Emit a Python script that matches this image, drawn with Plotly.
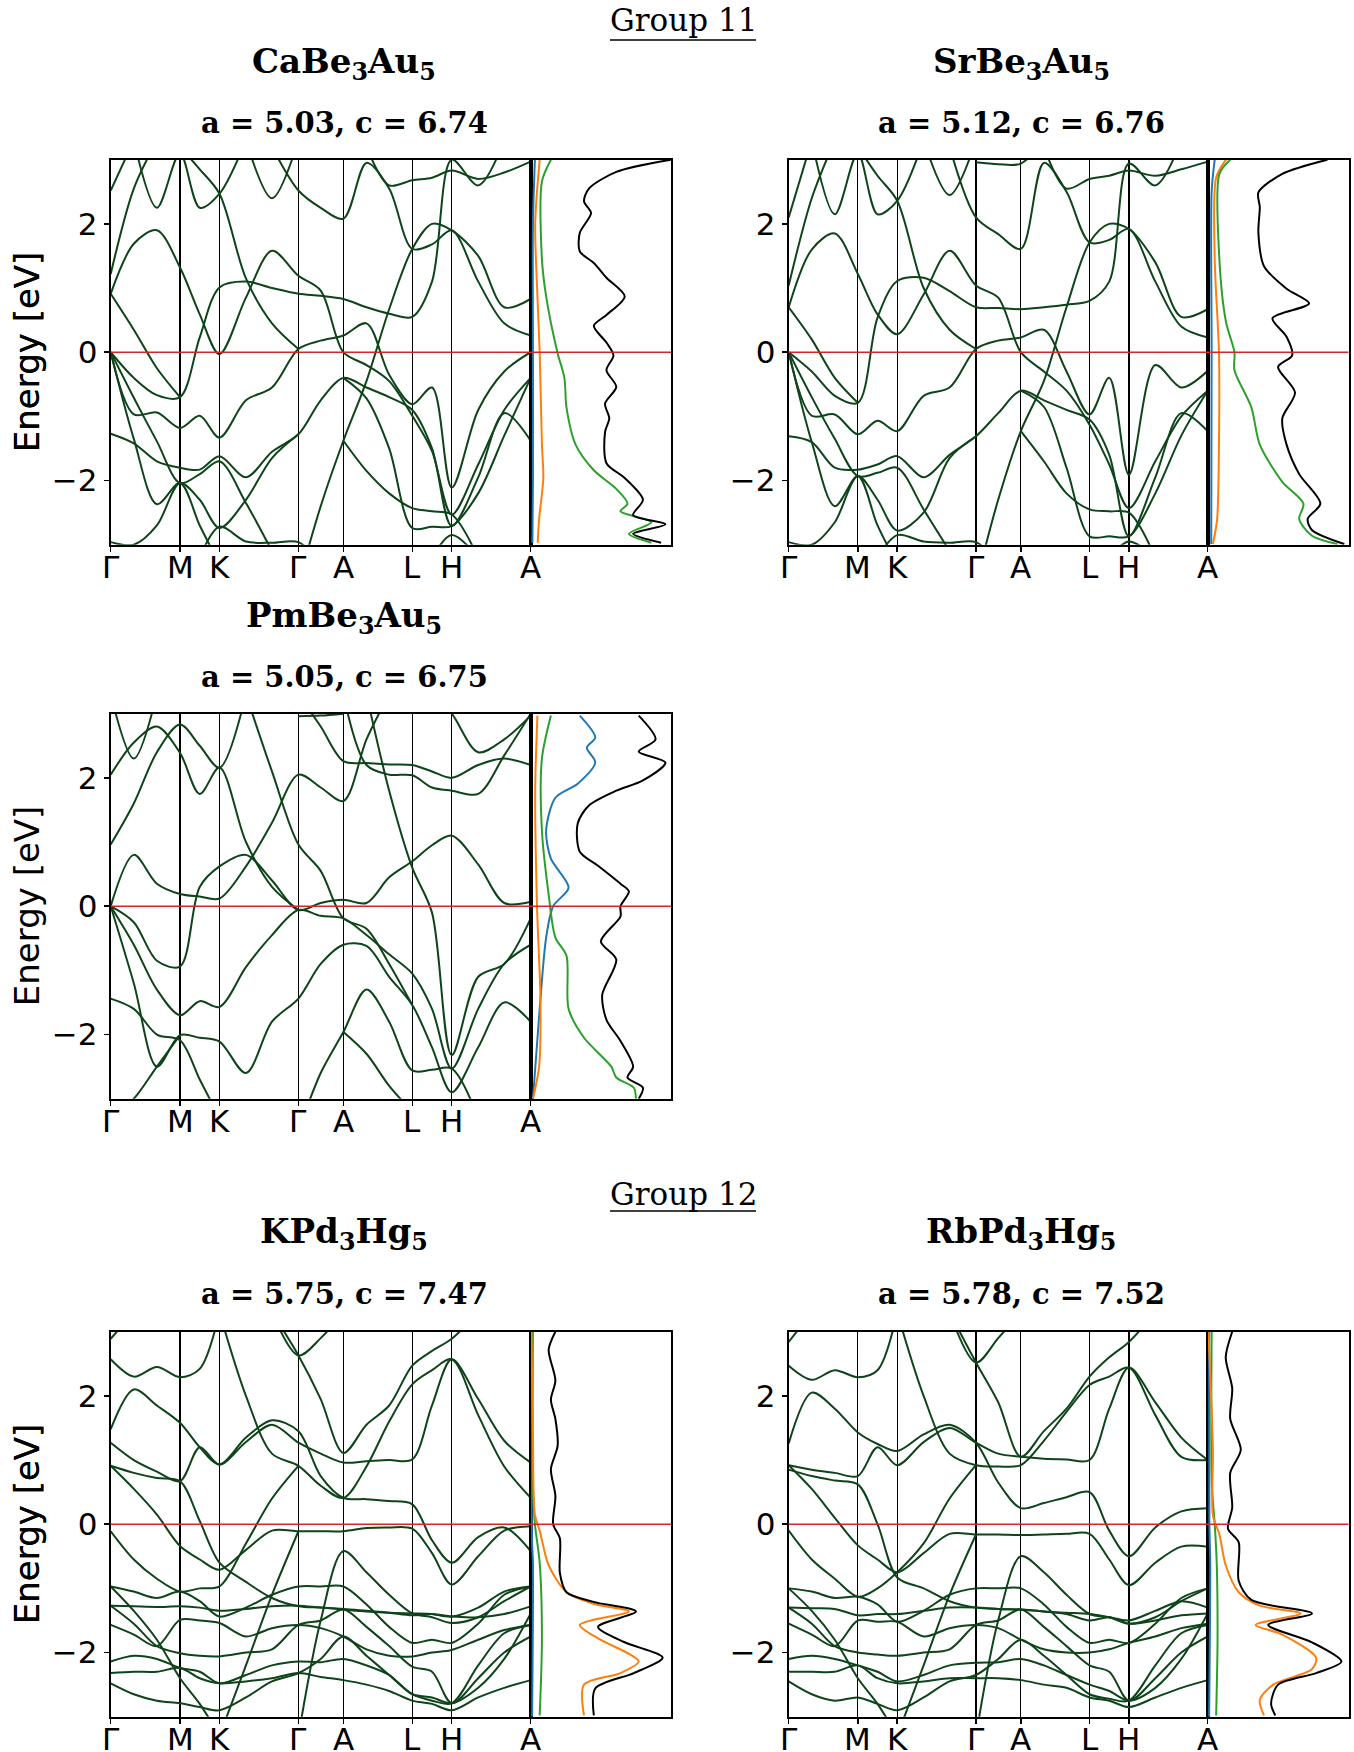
import plotly.graph_objects as go

# ------------------------------------------------------------------ data
KPATH = [0.0, 0.165, 0.259, 0.447, 0.554, 0.718, 0.812, 1.0]
KLABELS = ["Γ", "M", "K", "Γ", "A", "L", "H", "A"]
KGRID = [0.0, 0.055, 0.110, 0.165, 0.212, 0.259, 0.322, 0.384, 0.447, 0.500,
         0.554, 0.609, 0.663, 0.718, 0.765, 0.812, 0.875, 0.937, 1.0]
ETICKS = [-2, 0, 2]

COMPOUNDS = ["CaBe<sub>3</sub>Au<sub>5</sub>", "SrBe<sub>3</sub>Au<sub>5</sub>",
             "PmBe<sub>3</sub>Au<sub>5</sub>", "KPd<sub>3</sub>Hg<sub>5</sub>",
             "RbPd<sub>3</sub>Hg<sub>5</sub>"]
LATTICE = ["a = 5.03, c = 6.74", "a = 5.12, c = 6.76", "a = 5.05, c = 6.75",
           "a = 5.75, c = 7.47", "a = 5.78, c = 7.52"]
GROUPS = ["Group 11", "Group 12"]

N = None
CABE_BANDS = [
    [0, -0.40, -0.67, -0.70, 0.23, 1.01, 1.10, 1.00, 0.91, 0.88, 0.83, 0.70, 0.60, 0.55, 1.10, 3.00, 2.60, 3.30],
    [0.91, 1.69, 1.90, 1.32, 0.59, -0.03, 0.85, 1.58, 1.19, 0.96, 0.00, -0.20, -0.45, -0.99, -1.54, -2.53, -1.75, -0.90, -0.40],
    [0, -0.71, -1.39, -2.04, -1.90, -1.70, -2.35, -3.10],
    [0, -1.35, -2.37, -2.04, -2.70, -3.30],
    [0, -0.97, -0.94, -1.18, -0.99, -1.33, -0.75, -0.55, 0.05, 0.18, 0.26, 0.45, -0.35, -0.81, -0.55, -2.11, -0.90, -0.30, 0.00],
    [-1.27, -1.42, -1.70, -1.80, -1.83, -1.62, -1.95, -1.55, -1.28, -0.75, -0.40, -0.55, -0.70, -0.90, -1.50, -2.71, -1.95, -0.95, -1.38],
    [-2.96, -3.00, -2.70, -2.04, -2.30, -2.74, -2.30, -1.65, -1.28],
    [N, N, N, N, -3.20, -2.72, -2.95, -2.97, -2.96, -3.30],
    [N, N, N, N, N, N, N, N, -3.60, -2.40, -1.38, -0.45, 0.67, 1.61, 2.00, 1.90, 1.50, 0.70, 0.83],
    [N, N, N, N, N, N, N, N, N, N, -1.38, -1.85, -2.20, -2.43, -2.48, -2.53, -3.20],
    [N, N, N, N, N, N, N, N, N, N, -0.40, -0.72, -1.50, -2.74, -2.72, -2.71, -2.20, -1.30, -0.40],
    [N, N, N, N, N, N, N, 3.20, 2.52, 2.25, 2.08, 2.95, 2.55, 1.61, 1.68, 1.90, 1.10, 0.45, 0.26],
    [N, N, N, N, N, N, N, N, N, N, N, 3.20, 2.60, 2.68, 2.72, 2.83, 2.70, 2.80, 2.97],
    [1.22, 2.55, 3.30],
    [2.52, 3.30],
    [N, 3.30, 2.25, 3.10, 2.25, 2.47, 3.30],
    [0.91, 0.35, -0.25, -0.70],
    [N, N, N, 3.20, 2.85, 2.47, 1.15, 0.45, 0.05],
    [N, N, N, N, N, N, 3.30, 2.40, 3.30],
    [N, N, N, N, N, N, N, N, N, N, N, N, N, N, -3.20, -2.85, -3.20],
]
SRBE_BANDS = [
    [0, -0.30, -0.68, -0.79, 0.54, 1.11, 1.16, 0.95, 0.70, 0.69, 0.67, 0.70, 0.74, 0.80, 1.10, 2.94, 2.60, 3.30],
    [0.70, 1.60, 1.85, 1.22, 0.59, 0.28, 0.90, 1.58, 1.04, 0.85, 0.00, -0.30, -0.60, -1.13, -1.75, -2.43, -1.70, -1.00, -0.60],
    [0, -0.70, -1.35, -1.93, -1.88, -1.80, -2.45, -3.10],
    [0, -1.40, -2.40, -1.93, -2.70, -3.30],
    [0, -0.99, -0.97, -1.28, -1.07, -1.23, -0.68, -0.55, 0.05, 0.18, 0.23, 0.35, -0.30, -0.97, -0.40, -1.91, -0.20, -0.55, -0.29],
    [-1.31, -1.40, -1.80, -1.83, -1.75, -1.62, -1.95, -1.60, -1.31, -0.95, -0.60, -0.75, -0.90, -1.05, -1.60, -2.87, -1.95, -0.95, -1.23],
    [-2.96, -3.00, -2.65, -1.93, -2.30, -2.78, -2.50, -1.65, -1.31],
    [N, N, N, N, -3.20, -2.85, -2.95, -2.97, -2.96, -3.30],
    [N, N, N, N, N, N, N, N, -3.60, -2.30, -1.23, -0.45, 0.70, 1.71, 2.00, 1.92, 1.40, 0.55, 0.67],
    [N, N, N, N, N, N, N, N, N, N, -1.23, -1.70, -2.20, -2.45, -2.48, -2.50, -3.20],
    [N, N, N, N, N, N, N, N, N, N, -0.60, -0.85, -1.80, -2.87, -2.87, -2.87, -2.20, -1.30, -0.60],
    [N, N, N, N, N, N, N, 3.20, 2.10, 1.84, 1.61, 2.95, 2.50, 1.71, 1.75, 1.92, 1.10, 0.40, 0.23],
    [N, N, N, N, N, N, N, N, N, N, N, 3.20, 2.55, 2.70, 2.75, 2.83, 2.75, 2.85, 2.97],
    [1.04, 2.40, 3.30],
    [2.10, 3.30],
    [N, 3.30, 2.15, 3.10, 2.15, 2.36, 3.30],
    [0.70, 0.20, -0.40, -0.79],
    [N, N, N, 3.20, 2.75, 2.36, 1.00, 0.35, 0.05],
    [N, N, N, N, N, N, 3.30, 2.45, 3.30],
    [N, N, N, N, N, N, N, N, N, N, N, N, N, N, -3.20, -2.95, -3.20],
    [N, N, N, N, N, N, N, N, 2.96, 2.93, 2.94, 3.30],
]
PMBE_BANDS = [
    [0, 0.80, 0.35, 0.19, 0.15, 0.12, 0.62, 1.30, 2.05, 1.85, 1.64, 2.60, 3.30],
    [0, -0.25, -0.85, -0.94, 0.30, 0.62, 0.80, 0.40, -0.06, 0.05, 0.10, 0.05, 0.45, 0.70, 0.95, 1.10, 0.65, 0.05, 0.07],
    [0, -0.60, -1.30, -1.70, -1.48, -1.57, -0.95, -0.45, -0.06, -0.15, -0.19, -0.45, -0.75, -1.05, -1.60, -2.53, -1.60, -0.90, -0.60],
    [0, -1.20, -2.50, -2.01, -2.05, -2.11, -2.60, -1.80, -1.44, -0.90, -0.60, -0.62, -1.10, -1.54, -2.20, -2.90, -2.20, -1.50, -1.80],
    [-1.44, -1.60, -2.00, -2.09, -2.70, -3.30],
    [-3.30, -3.00, -2.50, -2.01],
    [0.96, 1.60, 2.40, 2.83, 2.50, 2.16, 3.30],
    [2.05, 2.55, 2.80, 2.39, 1.75, 2.16, 1.00, 0.30, -0.06],
    [3.30, 2.30, 3.30],
    [N, N, N, N, N, N, 3.30, 2.10, 0.96, 0.55, -0.19, -0.35, -0.90, -1.54],
    [N, N, N, N, N, N, N, N, N, N, N, 3.30, 1.80, 0.60, -0.10, -2.32, -1.10, -0.90, -0.19],
    [N, N, N, N, N, N, N, N, 2.96, 2.97, 3.00],
    [N, N, N, N, N, N, N, N, 3.30, 2.80, 2.26, 2.23, 2.21, 2.20, 2.10, 2.00, 2.20, 2.30, 2.20],
    [N, N, N, N, N, N, N, N, N, N, 3.30, 2.20, 2.05, 2.04, 1.85, 1.80, 1.75, 2.35, 3.00],
    [N, N, N, N, N, N, N, N, -3.50, -2.60, -1.96, -1.30, -1.80, -2.56, -2.55, -2.53, -3.30],
    [N, N, N, N, N, N, N, N, N, N, -1.96, -2.30, -2.80, -3.20],
    [N, N, N, N, N, N, N, N, N, N, N, N, N, N, 3.30, 3.00, 2.40, 2.60, 2.97],
]
KPDHG_BANDS = [
    [2.57, 2.30, 2.45, 2.29, 2.42, 3.30],
    [1.48, 2.10, 1.85, 1.58, 1.20, 0.93, 1.35, 1.62, 1.45, 0.75, 0.41, 0.39, 0.36, 0.31, -0.25, -0.60, -0.20, -0.05, -0.42],
    [1.27, 1.00, 0.82, 0.67, 1.20, 0.93, 1.28, 1.55, 1.27, 1.10, 0.96, 0.98, 1.00, 1.01, 1.85, 2.57, 1.95, 1.30, 0.96],
    [0.91, 0.55, 0.15, -0.34, -0.55, -0.71, -0.40, -0.10, -0.11, -0.11, -0.11, -0.06, -0.05, -0.07, -0.45, -0.94, -0.50, -0.10, -0.03],
    [0.91, 0.80, 0.72, 0.67, 0.05, -0.60, -0.90, -1.15, -1.28, -1.30, -1.33, -1.36, -1.38, -1.39, -1.40, -1.44, -1.30, -1.05, -0.97],
    [N, N, N, N, N, N, N, 3.30, 2.63, 1.95, 1.11, 1.55, 1.85, 2.47, 2.70, 2.89, 3.30],
    [N, N, N, N, N, N, N, 3.30, 2.63, 2.90, 3.30],
    [N, N, N, N, N, 3.30, 2.00, 1.10, 0.91, 0.60, 0.41, 0.90, 1.60, 2.18, 2.40, 2.57, 1.70, 0.90, 0.41],
    [-0.11, -0.55, -0.85, -1.05, -1.00, -0.97, -0.30, 0.40, 0.91],
    [2.89, 3.30],
    [-0.97, -1.05, -1.15, -1.05, -1.20, -1.44, -1.30, -1.10, -0.97, -0.97, -0.97, -1.25, -1.60, -1.85, -1.80, -1.85, -1.55, -1.10, -0.97],
    [-1.27, -1.28, -1.29, -1.28, -1.30, -1.35, -1.32, -1.28, -1.27, -1.30, -1.32, -1.35, -1.38, -1.42, -1.40, -1.44, -1.45, -1.40, -1.28],
    [-1.57, -1.72, -1.90, -1.49, -1.50, -1.54, -1.75, -1.62, -1.57, -1.62, -1.75, -1.95, -2.05, -2.06, -2.00, -1.96, -1.80, -1.65, -1.57],
    [-1.27, -1.55, -1.90, -2.01, -2.05, -2.06, -2.00, -1.95, -1.57, -1.50, -1.33, -1.60, -1.90, -2.22, -2.30, -2.79, -2.40, -2.00, -1.75],
    [-2.14, -2.05, -2.10, -2.24, -2.30, -2.48, -2.35, -2.20, -2.14, -2.15, -2.10, -2.20, -2.35, -2.65, -2.70, -2.79, -2.55, -2.10, -1.39],
    [-2.32, -2.30, -2.30, -2.24, -2.40, -2.48, -2.45, -2.40, -2.32, -2.38, -2.43, -2.50, -2.60, -2.75, -2.80, -2.90, -2.70, -2.55, -2.43],
    [-2.48, -2.65, -2.75, -2.79, -2.85, -2.90, -2.70, -2.45, -2.32, -2.10, -1.75, -2.05, -2.35, -2.65, -2.75, -2.79, -2.20, -1.70, -1.57],
    [-0.97, -1.35, -1.80, -2.40, -2.80, -3.30],
    [N, N, N, N, N, -3.30, -2.20, -1.10, -0.11],
    [N, N, N, N, N, N, N, N, -3.30, -1.50, -0.42, -0.75, -1.10, -1.39, -1.45, -1.54, -1.45, -1.20, -0.97],
]
RBPDHG_BANDS = [
    [2.47, 2.25, 2.40, 2.29, 2.40, 3.30],
    [1.26, 2.05, 1.80, 1.43, 1.25, 1.14, 1.40, 1.55, 1.27, 0.65, 0.25, 0.33, 0.42, 0.50, -0.10, -0.50, -0.05, 0.20, 0.25],
    [0.92, 0.85, 0.80, 0.75, 1.20, 0.92, 1.28, 1.50, 1.27, 1.10, 1.05, 1.02, 1.01, 1.00, 1.80, 2.44, 1.90, 1.35, 1.00],
    [0.92, 0.55, 0.10, -0.33, -0.55, -0.75, -0.45, -0.15, -0.16, -0.16, -0.17, -0.16, -0.15, -0.15, -0.55, -0.95, -0.60, -0.35, -0.35],
    [0.85, 0.75, 0.68, 0.62, 0.00, -0.83, -1.00, -1.20, -1.30, -1.32, -1.33, -1.36, -1.38, -1.40, -1.45, -1.50, -1.35, -1.20, -1.30],
    [N, N, N, N, N, N, N, 3.30, 2.52, 1.90, 1.05, 1.45, 1.80, 2.30, 2.60, 2.84, 3.30],
    [N, N, N, N, N, N, N, 3.30, 2.52, 2.90, 3.30],
    [N, N, N, N, N, 3.30, 2.00, 1.10, 0.92, 0.90, 0.92, 1.30, 1.75, 2.17, 2.30, 2.44, 1.70, 1.05, 1.00],
    [-0.10, -0.55, -0.85, -1.13, -1.00, -0.75, -0.30, 0.40, 0.92],
    [2.84, 3.30],
    [-1.00, -1.05, -1.15, -1.13, -1.25, -1.52, -1.35, -1.10, -1.00, -1.00, -1.00, -1.25, -1.60, -1.85, -1.80, -1.85, -1.55, -1.15, -1.00],
    [-1.30, -1.31, -1.32, -1.42, -1.40, -1.40, -1.35, -1.30, -1.30, -1.32, -1.33, -1.36, -1.40, -1.50, -1.45, -1.55, -1.50, -1.42, -1.39],
    [-1.55, -1.72, -1.90, -1.50, -1.52, -1.52, -1.75, -1.62, -1.57, -1.62, -1.80, -1.95, -2.00, -2.00, -1.95, -1.85, -1.75, -1.62, -1.55],
    [-1.30, -1.55, -1.90, -2.00, -2.03, -2.05, -2.00, -1.95, -1.57, -1.50, -1.33, -1.60, -1.90, -2.20, -2.30, -2.75, -2.40, -2.00, -1.75],
    [-2.10, -2.05, -2.10, -2.20, -2.30, -2.45, -2.35, -2.20, -2.16, -2.15, -2.10, -2.20, -2.35, -2.50, -2.60, -2.75, -2.55, -2.10, -1.39],
    [-2.30, -2.30, -2.30, -2.20, -2.40, -2.48, -2.45, -2.40, -2.40, -2.40, -2.43, -2.50, -2.55, -2.70, -2.75, -2.85, -2.70, -2.55, -2.43],
    [-2.45, -2.65, -2.75, -2.70, -2.80, -2.90, -2.70, -2.45, -2.35, -2.10, -1.80, -2.05, -2.35, -2.65, -2.72, -2.75, -2.20, -1.70, -1.57],
    [-1.00, -1.35, -1.80, -2.40, -2.80, -3.30],
    [N, N, N, N, N, -3.30, -2.20, -1.10, -0.16],
    [N, N, N, N, N, N, N, N, -3.30, -1.50, -0.50, -0.75, -1.10, -1.40, -1.45, -1.55, -1.45, -1.20, -1.00],
]

# DOS curves (energy in eV, DOS in arbitrary units 0-10 across the side panel)
CABE_DOS_E_TOT = [3.0, 2.81, 2.55, 2.35, 2.17, 1.86, 1.57, 1.39, 1.16, 0.87, 0.58, 0.41, 0.15, -0.05, -0.28, -0.54, -0.80, -1.03, -1.24, -1.73, -1.96, -2.30, -2.54, -2.68, -2.83, -2.97]
CABE_DOS_TOT = [10.0, 6.1, 4.15, 3.8, 4.3, 3.5, 3.5, 4.5, 5.4, 6.7, 5.4, 4.5, 5.4, 5.9, 5.4, 6.1, 5.3, 5.6, 5.3, 5.4, 6.7, 8.0, 7.3, 9.6, 7.3, 9.3]
CABE_DOS_E_GRN = [3.0, 2.66, 1.45, 0.87, 0.0, -0.4, -0.86, -1.44, -1.84, -2.13, -2.36, -2.48, -2.65, -2.83, -2.97]
CABE_DOS_GRN = [1.44, 0.8, 0.8, 1.1, 1.9, 2.4, 2.55, 3.2, 4.5, 6.1, 6.9, 6.4, 8.6, 7.0, 8.6]
CABE_DOS_E_ORG = [3.0, 2.0, 0.87, 0.0, -1.44, -1.96, -2.6, -2.97]
CABE_DOS_ORG = [0.64, 0.32, 0.48, 0.64, 0.8, 0.9, 0.6, 0.5]
CABE_DOS_E_BLU = [3.0, 2.0, 0.0, -2.0, -2.97]
CABE_DOS_BLU = [0.3, 0.16, 0.16, 0.16, 0.12]

SRBE_DOS_E_TOT = [3.0, 2.78, 2.49, 2.26, 1.86, 1.34, 0.99, 0.76, 0.53, 0.24, -0.05, -0.23, -0.63, -1.03, -1.44, -1.9, -2.36, -2.6, -2.77, -2.99]
SRBE_DOS_TOT = [8.5, 5.3, 3.6, 3.7, 3.6, 4.0, 5.6, 7.2, 4.6, 5.6, 6.0, 5.0, 6.2, 5.3, 5.6, 6.5, 8.0, 7.1, 7.4, 9.7]
SRBE_DOS_E_GRN = [3.0, 2.78, 1.45, 0.47, 0.0, -0.28, -0.86, -1.44, -2.02, -2.36, -2.6, -2.86, -2.99]
SRBE_DOS_GRN = [1.6, 0.83, 0.83, 1.3, 1.9, 1.9, 3.1, 3.7, 5.3, 6.8, 6.5, 7.4, 9.2]
SRBE_DOS_E_ORG = [3.0, 2.72, 1.45, 0.0, -1.44, -2.6, -2.99]
SRBE_DOS_ORG = [1.3, 0.6, 0.5, 0.8, 0.8, 0.67, 0.37]
SRBE_DOS_E_BLU = [3.0, 2.5, 0.0, -2.99]
SRBE_DOS_BLU = [0.5, 0.28, 0.28, 0.25]

PMBE_DOS_E_TOT = [2.97, 2.6, 2.41, 2.24, 1.96, 1.8, 1.57, 1.29, 0.85, 0.63, 0.35, 0.23, 0.0, -0.16, -0.55, -0.83, -1.38, -1.77, -2.1, -2.5, -2.67, -2.83, -3.0]
PMBE_DOS_TOT = [7.7, 8.9, 7.7, 9.6, 8.0, 6.1, 4.15, 3.35, 3.5, 4.8, 6.4, 7.0, 6.4, 6.4, 5.0, 6.1, 5.1, 5.4, 6.4, 7.3, 6.9, 8.0, 7.7]
PMBE_DOS_E_GRN = [2.97, 2.3, 1.18, 0.18, -0.49, -0.77, -1.6, -2.05, -2.5, -2.67, -2.83, -3.0]
PMBE_DOS_GRN = [1.44, 0.8, 0.8, 1.28, 1.76, 2.55, 2.7, 3.8, 5.75, 6.1, 7.35, 7.5]
PMBE_DOS_E_ORG = [2.97, 1.8, 0.0, -1.5, -2.5, -3.0]
PMBE_DOS_ORG = [0.48, 0.32, 0.45, 0.7, 0.6, 0.16]
PMBE_DOS_E_BLU = [2.97, 2.63, 2.47, 2.24, 1.91, 1.69, 1.18, 0.74, 0.29, 0.0, -0.49, -1.6, -3.0]
PMBE_DOS_BLU = [3.5, 4.6, 4.0, 4.6, 3.35, 1.76, 1.1, 1.44, 2.7, 1.6, 1.1, 0.64, 0.16]

KPDHG_DOS_E_TOT = [3.0, 2.72, 2.24, 1.94, 1.64, 1.22, 0.86, 0.44, 0.0, -0.22, -0.76, -1.06, -1.21, -1.36, -1.6, -1.84, -2.08, -2.32, -2.56, -2.98]
KPDHG_DOS_TOT = [1.76, 1.28, 1.76, 1.44, 1.76, 1.92, 1.44, 1.76, 1.6, 2.08, 2.08, 2.55, 4.47, 7.5, 4.8, 6.7, 9.4, 7.35, 4.6, 4.5]
KPDHG_DOS_E_GRN = [3.0, 0.6, 0.0, -0.6, -1.8, -2.98]
KPDHG_DOS_GRN = [0.16, 0.16, 0.3, 0.64, 0.8, 0.64]
KPDHG_DOS_E_ORG = [3.0, 1.34, 0.14, -0.1, -0.64, -1.06, -1.24, -1.36, -1.57, -1.78, -2.02, -2.14, -2.32, -2.5, -2.98]
KPDHG_DOS_ORG = [0.05, 0.16, 0.3, 0.64, 1.28, 2.55, 4.47, 7.0, 3.5, 4.8, 7.0, 7.7, 6.4, 3.8, 3.8]
KPDHG_DOS_E_BLU = [3.0, -0.3, -0.6, -3.0]
KPDHG_DOS_BLU = [0.05, 0.1, 0.16, 0.1]

RBPDHG_DOS_E_TOT = [3.0, 2.6, 2.12, 1.64, 1.16, 0.8, 0.26, -0.07, -0.28, -0.88, -1.18, -1.39, -1.57, -1.84, -2.14, -2.32, -2.5, -2.8, -2.98]
RBPDHG_DOS_TOT = [1.74, 1.28, 1.74, 1.6, 2.35, 1.6, 1.74, 1.44, 2.2, 2.2, 3.1, 7.4, 4.3, 7.4, 9.5, 7.7, 5.0, 4.5, 4.8]
RBPDHG_DOS_E_GRN = [3.0, 0.6, 0.0, -0.6, -1.8, -2.98]
RBPDHG_DOS_GRN = [0.28, 0.3, 0.5, 0.64, 0.7, 0.6]
RBPDHG_DOS_E_ORG = [3.0, 1.16, 0.14, -0.16, -0.64, -1.06, -1.27, -1.39, -1.57, -1.72, -2.08, -2.26, -2.5, -2.74, -2.98]
RBPDHG_DOS_ORG = [0.05, 0.37, 0.37, 0.83, 1.28, 2.2, 3.7, 6.6, 3.4, 5.3, 7.7, 7.4, 4.65, 3.7, 4.0]
RBPDHG_DOS_E_BLU = [3.0, 0.0, -0.6, -3.0]
RBPDHG_DOS_BLU = [0.1, 0.12, 0.18, 0.1]

# ------------------------------------------------------------------ styling / layout
W, H = 1354, 1752
BAND_COLOR = "#0e4419"
FERMI_COLOR = "#d62728"
C_TOT, C_GRN, C_ORG, C_BLU = "black", "#2ca02c", "#ff7f0e", "#1f77b4"
SANS = "DejaVu Sans"
SERIF = "DejaVu Serif"


def fx(px):
    return px / W


def fy(py):
    return 1 - py / H


# (band left, band/DOS split, right, top, bottom, title centre x, name baseline, lattice baseline)
BOXES = [
    (110.7, 530.7, 671.0, 159.7, 544.7, 344, 72, 131),
    (788.7, 1207.7, 1348.5, 159.7, 544.7, 1021, 72, 131),
    (110.7, 530.7, 671.0, 713.7, 1098.7, 344, 626, 685),
    (110.7, 530.7, 671.0, 1331.7, 1716.7, 344, 1242, 1301.6),
    (788.7, 1207.7, 1348.5, 1331.7, 1716.7, 1021, 1242, 1301.6),
]
ALL_BANDS = [CABE_BANDS, SRBE_BANDS, PMBE_BANDS, KPDHG_BANDS, RBPDHG_BANDS]
ALL_DOS = [
    [(CABE_DOS_E_BLU, CABE_DOS_BLU, C_BLU), (CABE_DOS_E_ORG, CABE_DOS_ORG, C_ORG),
     (CABE_DOS_E_GRN, CABE_DOS_GRN, C_GRN), (CABE_DOS_E_TOT, CABE_DOS_TOT, C_TOT)],
    [(SRBE_DOS_E_BLU, SRBE_DOS_BLU, C_BLU), (SRBE_DOS_E_ORG, SRBE_DOS_ORG, C_ORG),
     (SRBE_DOS_E_GRN, SRBE_DOS_GRN, C_GRN), (SRBE_DOS_E_TOT, SRBE_DOS_TOT, C_TOT)],
    [(PMBE_DOS_E_BLU, PMBE_DOS_BLU, C_BLU), (PMBE_DOS_E_ORG, PMBE_DOS_ORG, C_ORG),
     (PMBE_DOS_E_GRN, PMBE_DOS_GRN, C_GRN), (PMBE_DOS_E_TOT, PMBE_DOS_TOT, C_TOT)],
    [(KPDHG_DOS_E_BLU, KPDHG_DOS_BLU, C_BLU), (KPDHG_DOS_E_GRN, KPDHG_DOS_GRN, C_GRN),
     (KPDHG_DOS_E_ORG, KPDHG_DOS_ORG, C_ORG), (KPDHG_DOS_E_TOT, KPDHG_DOS_TOT, C_TOT)],
    [(RBPDHG_DOS_E_BLU, RBPDHG_DOS_BLU, C_BLU), (RBPDHG_DOS_E_GRN, RBPDHG_DOS_GRN, C_GRN),
     (RBPDHG_DOS_E_ORG, RBPDHG_DOS_ORG, C_ORG), (RBPDHG_DOS_E_TOT, RBPDHG_DOS_TOT, C_TOT)],
]

fig = go.Figure()
layout = dict(width=W, height=H, margin=dict(l=0, r=0, t=0, b=0, pad=0),
              paper_bgcolor="white", plot_bgcolor="white", showlegend=False)
shapes = []
annotations = []

tickfont = dict(family=SANS, size=31, color="black")

for i, (x0, xs, x1, y0, y1, tcx, name_base, lat_base) in enumerate(BOXES):
    nb, nd = 2 * i + 1, 2 * i + 2
    kb = "" if nb == 1 else str(nb)
    kd = str(nd)
    ydom = [fy(y1), fy(y0)]
    layout["xaxis" + kb] = dict(
        domain=[fx(x0), fx(xs)], range=[0, 1], anchor="y" + kb,
        tickmode="array", tickvals=KPATH, showticklabels=False,
        ticks="outside", ticklen=5, tickwidth=1.5, tickcolor="black",
        showgrid=True, gridcolor="black", gridwidth=1.3, zeroline=False,
        showline=True, mirror=True, linecolor="black", linewidth=2,
        fixedrange=True, automargin=False)
    layout["yaxis" + kb] = dict(
        domain=ydom, range=[-3, 3], anchor="x" + kb,
        tickmode="array", tickvals=ETICKS, ticks="outside", ticklen=5,
        tickwidth=1.5, tickcolor="black", showgrid=False, zeroline=False,
        showline=True, mirror=True, linecolor="black", linewidth=2,
        tickfont=tickfont, fixedrange=True, automargin=False)
    layout["xaxis" + kd] = dict(
        domain=[fx(xs), fx(x1)], range=[0, 10], anchor="y" + kd,
        showticklabels=False, ticks="", showgrid=False, zeroline=False,
        showline=True, mirror=True, linecolor="black", linewidth=2,
        fixedrange=True, automargin=False)
    layout["yaxis" + kd] = dict(
        domain=ydom, range=[-3, 3], anchor="x" + kd,
        showticklabels=False, ticks="", showgrid=False, zeroline=False,
        showline=True, mirror=True, linecolor="black", linewidth=2,
        fixedrange=True, automargin=False)

    for band in ALL_BANDS[i]:
        yb = (list(band) + [None] * len(KGRID))[:len(KGRID)]
        fig.add_trace(go.Scatter(
            x=KGRID, y=yb, mode="lines", connectgaps=False,
            line=dict(color=BAND_COLOR, width=2, shape="spline", smoothing=0.9),
            xaxis="x" + kb, yaxis="y" + kb, hoverinfo="skip", showlegend=False))

    for (ee, vv, col) in ALL_DOS[i]:
        fig.add_trace(go.Scatter(
            x=vv, y=ee, mode="lines",
            line=dict(color=col, width=2, shape="spline", smoothing=0.8),
            xaxis="x" + kd, yaxis="y" + kd, hoverinfo="skip", showlegend=False))

    # Fermi level
    shapes.append(dict(type="line", xref="paper", yref="y" + kb,
                       x0=fx(x0), x1=fx(x1), y0=0, y1=0,
                       line=dict(color=FERMI_COLOR, width=1.5), layer="above"))

    # k-point labels under the band axis
    for kv, kl in zip(KPATH, KLABELS):
        annotations.append(dict(text=kl, x=kv, xref="x" + kb, y=fy(y1 + 22), yref="paper",
                                showarrow=False, xanchor="center", yanchor="middle",
                                font=tickfont))

    # y label
    annotations.append(dict(text="Energy [eV]", x=fx(27), y=fy((y0 + y1) / 2),
                            xref="paper", yref="paper", showarrow=False, textangle=-90,
                            xanchor="center", yanchor="middle",
                            font=dict(family=SANS, size=34, color="black")))
    # titles
    annotations.append(dict(text="<b>" + COMPOUNDS[i] + "</b>", x=fx(tcx), y=fy(name_base + 16),
                            xref="paper", yref="paper", showarrow=False,
                            xanchor="center", yanchor="bottom",
                            font=dict(family=SERIF, size=34, color="black")))
    annotations.append(dict(text="<b>" + LATTICE[i] + "</b>", x=fx(tcx), y=fy(lat_base + 11),
                            xref="paper", yref="paper", showarrow=False,
                            xanchor="center", yanchor="bottom",
                            font=dict(family=SERIF, size=29, color="black")))

# group headers with underline
for gtext, base, uline in [(GROUPS[0], 28, 40), (GROUPS[1], 1202, 1211)]:
    annotations.append(dict(text=gtext, x=fx(683), y=fy(base + 12), xref="paper", yref="paper",
                            showarrow=False, xanchor="center", yanchor="bottom",
                            font=dict(family=SERIF, size=31, color="black")))
    shapes.append(dict(type="line", xref="paper", yref="paper",
                       x0=fx(610), x1=fx(756), y0=fy(uline), y1=fy(uline),
                       line=dict(color="black", width=1.5)))

layout["shapes"] = shapes
layout["annotations"] = annotations
fig.update_layout(**layout)
fig.write_html("out.html",
               config={"displayModeBar": False, "staticPlot": True},
               post_script="document.body.style.margin='0px';"
                           "document.documentElement.style.overflow='hidden';"
                           "document.body.style.overflow='hidden';")
